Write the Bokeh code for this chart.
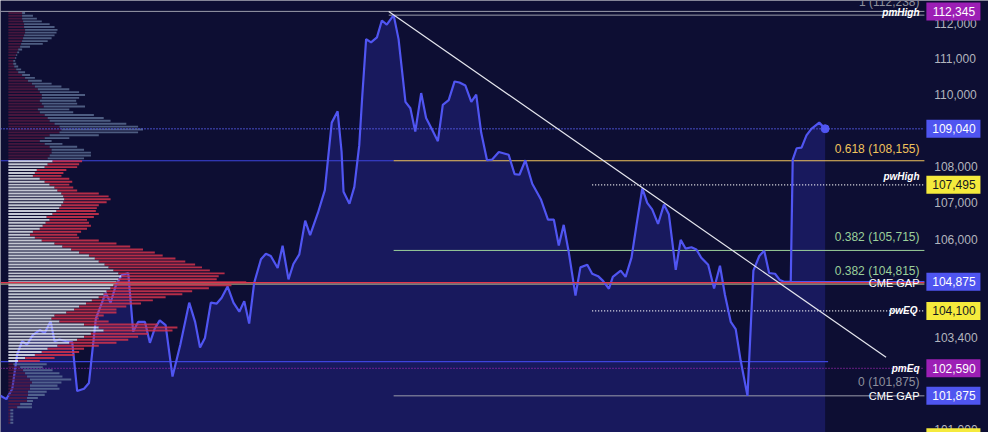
import numpy as np
from bokeh.plotting import figure
from bokeh.models import Range1d
from bokeh.core.properties import value
from bokeh.embed import file_html
from bokeh.resources import INLINE

# ---------------- data ----------------
hours = [0, 6, 12, 17, 22, 27, 33, 40, 45, 51,
         55, 60, 67, 73, 78, 85, 90, 97, 107, 112,
         117, 123, 130, 135, 140, 147, 152, 157, 162, 168,
         175, 183, 192, 198, 203, 208, 214, 220, 225, 231,
         237, 243, 248, 253, 258, 265, 270, 275, 282, 287,
         293, 298, 304, 310, 315, 323, 330, 337, 343, 347,
         349, 355, 360, 365, 368, 372, 377, 383, 388, 393,
         400, 405, 412, 417, 422, 428, 433, 438, 445, 450,
         456, 462, 467, 473, 479, 484, 489, 495, 500, 507,
         517, 523, 528, 534, 541, 550, 557, 563, 568, 573,
         578, 585, 590, 597, 602, 608, 613, 619, 623, 631,
         636, 642, 647, 653, 658, 663, 669, 675, 680, 687,
         692, 697, 703, 708, 713, 720, 726, 732, 737, 743,
         748, 753, 760, 766, 772, 777, 782, 788, 793, 797,
         804, 806, 810, 815, 820, 825, 833, 839]

price = [101880, 101790, 102060, 102960, 103300, 103215, 103470, 103595, 103515, 103825,
         103300, 103345, 103300, 103275, 102000, 102060, 102210, 103895, 104580, 104320,
         104750, 105050, 105110, 103555, 103810, 103810, 103260, 103640, 103850, 103725,
         102375, 103215, 104320, 103810, 103135, 103385, 104320, 104295, 104450, 104750,
         104320, 104080, 104360, 103765, 104835, 105480, 105625, 105565, 105245, 105840,
         104940, 105350, 105610, 106520, 106130, 106735, 107350, 109210, 109525, 108410,
         107305, 106980, 107440, 108585, 109925, 111555, 111465, 111605, 112085, 111970,
         112238, 111555, 109790, 109610, 108960, 110035, 109340, 109075, 108695, 109705,
         109835, 110360, 110330, 110245, 109790, 109990, 108940, 108170, 108185, 108395,
         108320, 107790, 107770, 108170, 107525, 107085, 106545, 106545, 105850, 106405,
         105695, 104510, 105260, 105330, 105090, 105025, 104900, 104690, 105005, 105175,
         105005, 105520, 106390, 107395, 107000, 106825, 106430, 106955, 106695, 105195,
         106000, 105765, 105800, 105740, 105520, 105330, 104695, 105305, 104535, 103810,
         103620, 102800, 101875, 105175, 105565, 105710, 105110, 105090, 104920, 104875,
         104875, 108185, 108500, 108515, 108855, 109035, 109210, 109040]

# volume profile (rows from top to bottom)
vp_top = 112340
vp_step = 80
vol_left = [14, 14, 14, 15, 16, 16, 17, 17, 16, 15,
            14, 13, 12, 10, 9, 8, 7, 5, 5, 6,
            8, 10, 14, 17, 20, 24, 27, 30, 32, 34,
            34, 32, 34, 36, 30, 32, 37, 40, 42, 47,
            52, 54, 52, 42, 37, 32, 37, 42, 44, 44,
            42, 40, 45, 40, 37, 29, 27, 25, 32, 37,
            42, 47, 50, 54, 56, 57, 56, 54, 52, 49,
            45, 39, 42, 38, 35, 32, 25, 22, 27, 34,
            47, 55, 64, 72, 82, 88, 92, 98, 102, 107,
            112, 115, 112, 110, 107, 104, 100, 97, 92, 85,
            79, 72, 67, 59, 47, 44, 52, 77, 92, 97,
            84, 77, 70, 62, 50, 40, 34, 27, 17, 10,
            5, 12, 15, 17, 19, 22, 24, 22, 22, 20,
            20, 19, 19, 12, 9, 2, 2, 2, 2, 2]
vol_total = [17, 25, 29, 34, 42, 47, 50, 49, 47, 44,
             40, 35, 22, 14, 11, 9, 8, 7, 8, 10,
             13, 17, 22, 27, 34, 44, 54, 62, 72, 78,
             72, 69, 70, 78, 62, 66, 87, 97, 104, 120,
             132, 137, 132, 92, 62, 44, 55, 70, 77, 84,
             84, 77, 75, 72, 70, 59, 56, 54, 62, 65,
             62, 66, 70, 92, 102, 104, 100, 92, 90, 89,
             92, 87, 80, 82, 84, 80, 74, 70, 72, 92,
             110, 124, 137, 149, 157, 170, 180, 190, 197, 205,
             220, 214, 212, 242, 227, 204, 187, 177, 160, 147,
             135, 120, 110, 110, 97, 92, 102, 152, 172, 167,
             142, 132, 122, 110, 92, 77, 72, 67, 47, 32,
             39, 35, 45, 52, 55, 64, 54, 50, 52, 39,
             37, 30, 25, 24, 24, 5, 5, 5, 5, 5]
value_area_high = 108155
value_area_low = 102765

# levels
pm_high = 112345
last_price = 109040
pw_high = 107495
cme_gap_hi = 104875
red_level = 104850
pw_eq = 104100
pm_eq = 102590
cme_gap_lo = 101875
pw_low = 100805
fib_ratios = ["1", "0.618", "0.382", "0.382", "0"]
fib_levels = [112238, 108155, 105715, 104815, 101875]
y_ticks = [101000, 103400, 105000, 106000, 107000, 108000, 110000, 111000, 112000]

# ---------------- styling ----------------
BG = "#0d0e33"
LINE = "#5055f2"
FONT = "Liberation Sans"
X_END = 940          # end of the price pane (hours)
X_MAX = 1005.2       # includes the price-scale strip on the right
Y_LO, Y_HI = 100929, 112657

p = figure(width=988, height=432, y_axis_type="log",
           x_range=Range1d(0, X_MAX), y_range=Range1d(Y_LO, Y_HI),
           x_axis_location=None, y_axis_location=None,
           output_backend="svg", toolbar_location=None,
           min_border=0)
p.background_fill_color = BG
p.border_fill_color = BG
p.outline_line_color = None
p.grid.grid_line_color = None

# area under price
p.varea(x=hours, y1=[Y_LO] * len(hours), y2=price, fill_color="#2b30a8", fill_alpha=0.36)

# horizontal levels under the line
def hline(level, x0, x1, color, width=1, dash="solid", alpha=1.0):
    p.segment(x0=[x0], y0=[level], x1=[x1], y1=[level], line_color=color,
              line_width=width, line_dash=dash, line_alpha=alpha)

hline(pm_high, 0, X_END, "#9a9cab")
hline(fib_levels[0], 395, X_END, "#9a9cab")
hline(value_area_high, 0, 400, "#3d44dc", 1.2)
hline(fib_levels[1], 400, X_END, "#f0c35c", 1.2)
hline(pw_high, 602, X_END, "#ffffff", 1.2, "1 2")
hline(fib_levels[2], 400, X_END, "#9bd09a", 1)
hline(fib_levels[3], 0, X_END, "#c9d79a", 1)
hline(cme_gap_hi, 797, X_END, "#4f55f0", 1.5)
hline(pw_eq, 602, X_END, "#ffffff", 1.2, "1 2")
hline(value_area_low, 0, 842, "#3d44dc", 1.2)
hline(pm_eq, 0, X_END, "#9c27b0", 1.2, "1 2")
hline(fib_levels[4], 400, X_END, "#9a9cab", 1)

# price line
p.line(hours, price, line_color=LINE, line_width=2.2)
p.scatter([hours[-1]], [price[-1]], size=8, fill_color=LINE, line_color=LINE)

# volume profile
rows = np.arange(len(vol_total))
row_price = vp_top - vp_step * (rows + 0.5)
in_va = (row_price <= value_area_high) & (row_price >= value_area_low)
x0 = 8
left_end = x0 + np.array(vol_left)
tot_end = x0 + np.array(vol_total)
top = row_price + vp_step * 0.33
bot = row_price - vp_step * 0.33
c_left = np.where(in_va, "#e4e6ef", "#5a1a42")
c_right = np.where(in_va, "#d4334c", "#667b9f")
a_left = np.where(in_va, 0.85, 0.75)
a_right = np.where(in_va, 0.85, 0.72)
p.quad(left=[x0] * len(rows), right=left_end, top=top, bottom=bot,
       fill_color=c_left, fill_alpha=a_left, line_color=None)
p.quad(left=left_end, right=tot_end, top=top, bottom=bot,
       fill_color=c_right, fill_alpha=a_right, line_color=None)

# lines over the profile
hline(last_price, 0, X_END, "#5b60f5", 1.3, "1 2")
hline(red_level, 0, X_END, "#e0354c", 1.3)

# trendline from the high
p.line([395, 901], [pm_high, 102880], line_color="#e6e7ef", line_width=1.2)

# texts on the right of the pane
def txt(t, level, color, dy, style="normal", size="12px", baseline="bottom", xr=935):
    p.text(x=[xr], y=[level], text=[t], text_color=color, text_align="right",
           text_baseline=baseline, y_offset=dy, text_font=value(FONT),
           text_font_size=size, text_font_style=style)

fib_colors = ["#8d909d", "#f0c35c", "#9bd09a", "#9bd09a", "#8d909d"]
fib_dy = [-6, -5, -6, -6, -7]
for r, lvl, c, dy in zip(fib_ratios, fib_levels, fib_colors, fib_dy):
    txt(f"{r} ({lvl:,})", lvl, c, dy)

txt("pmHigh", pm_high, "#ffffff", 1, "bold italic", "10px", "middle")
txt("pwHigh", pw_high, "#ffffff", -3, "bold italic", "10px", "bottom")
txt("pwEQ", pw_eq, "#ffffff", 0, "bold italic", "10px", "middle", 933)
txt("pmEq", pm_eq, "#ffffff", 0, "bold italic", "10px", "middle")
txt("CME GAP", cme_gap_hi, "#ffffff", 1, "normal", "11px", "middle")
txt("CME GAP", cme_gap_lo, "#ffffff", 0, "normal", "11px", "middle")

# price scale on the right (log scale tick labels)
p.text(x=[950] * len(y_ticks), y=y_ticks, text=[f"{t:,}" for t in y_ticks],
       text_color="#b2b5be", text_align="left", text_baseline="middle",
       text_font=value(FONT), text_font_size="12px")

# price tags on the scale
tags = [(pm_high, "#9c1fb5", "#ffffff"),
        (last_price, "#4f55f0", "#ffffff"),
        (pw_high, "#f5ea3c", "#131722"),
        (cme_gap_hi, "#4f55f0", "#ffffff"),
        (pw_eq, "#f5ea3c", "#131722"),
        (pm_eq, "#9c1fb5", "#ffffff"),
        (cme_gap_lo, "#4f55f0", "#ffffff")]
tag_y = [t[0] for t in tags]
p.rect(x=[969.5] * len(tags), y=tag_y, width=55, height=18, height_units="screen",
       fill_color=[t[1] for t in tags], line_color=None)
p.rect(x=[969.5], y=[pw_low], width=55, height=18, height_units="screen",
       fill_color="#f5ea3c", line_color=None)
p.text(x=[970] * len(tags), y=tag_y, text=[f"{v:,}" for v in tag_y],
       text_color=[t[2] for t in tags], text_align="center", text_baseline="middle",
       text_font=value(FONT), text_font_size="12px")

open("out.html", "w").write(file_html(p, INLINE))
